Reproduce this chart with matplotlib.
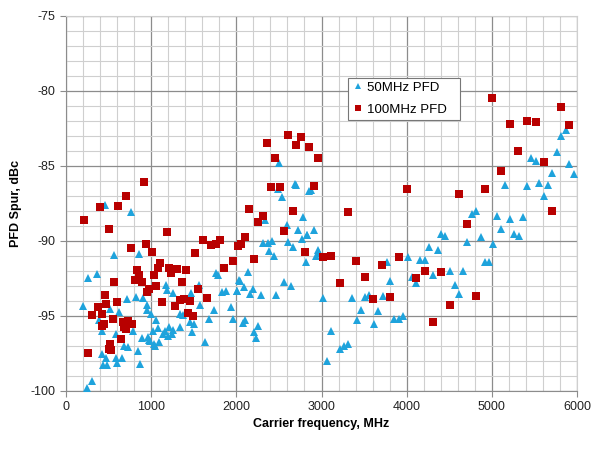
import numpy as np
import matplotlib
matplotlib.use("Agg")
import matplotlib.pyplot as plt
from matplotlib.ticker import MultipleLocator

plt.rcParams['font.family'] = ['Liberation Sans', 'DejaVu Sans']
plt.rcParams['axes.unicode_minus'] = False

# 50MHz PFD (triangles)
pfd50_x = [462, 763, 2505, 2684, 2704, 2485, 2857, 2880, 2536, 2779, 2332, 2591, 2727, 2908,
           2826, 2765, 2833, 2962,
           5870, 5811, 5761, 5460, 5518, 5909, 5706, 5968, 5157, 5416, 5557, 5662, 5609, 4766,
           4813, 5060, 5213, 5362, 5111, 5260, 5315, 4402, 4448, 4872,
           560, 861, 364, 258, 203, 712, 822, 904, 951, 955, 1002, 1053, 513, 618, 387, 426,
           583, 787, 684, 728, 841, 423, 470, 591, 657, 430, 485, 599, 869, 309, 243,
           892, 978, 986, 1033, 1088, 1049, 1135, 1158, 1201, 1240, 1209, 1260, 1335, 1084,
           1025, 966,
           1170, 1186, 1256, 1467, 1557, 1577, 1733, 1452, 1507, 1479, 1628, 1682, 1338, 1370,
           1757, 1784, 1827, 1878, 1933, 1960, 2003, 2027,
           2309, 2368, 2415, 2387, 2438, 2610, 2665, 2814, 2970, 2939, 4011, 3772, 2133, 3808,
           2043, 2011, 2093, 2192, 2160, 2286, 2462, 2563, 2642, 3013, 3358, 3510, 3561, 3718,
           3460, 3413, 3667, 3612, 3851, 3909, 3960, 2082, 2105, 2258, 2207, 2234, 3115, 3307,
           3260, 3213, 3064,
           4261, 4364, 4160, 4211, 4711, 5009, 4916, 4963, 4508, 4661, 4312, 4058, 4113, 4563,
           4610]
pfd50_y = [-87.6, -88.1, -84.8, -86.2, -86.3, -86.56, -86.67, -86.6, -87.1, -88.4, -88.6, -88.96,
           -89.3, -89.27, -89.6, -89.85, -89.6, -90.6,
           -82.58, -82.98, -84.09, -84.5, -84.67, -84.9, -85.47, -85.56, -86.24, -86.36, -86.16,
           -86.27, -87.0, -88.2, -88.0, -88.31, -88.56, -88.38, -89.18, -89.56, -89.7, -89.56,
           -89.7, -89.73,
           -90.93, -90.84, -92.18, -92.44, -94.33, -93.89, -93.71, -93.8, -94.27, -94.58, -94.89,
           -95.27, -94.56, -94.73, -95.24, -96.0, -96.22, -96.0, -96.98, -97.1, -97.36, -97.56,
           -97.77, -97.78, -97.78, -98.27, -98.27, -98.16, -98.18, -99.31, -99.82,
           -96.44, -96.6, -96.7, -96.87, -96.71, -97.0, -96.2, -96.02, -96.33, -96.2, -95.73,
           -95.91, -95.71, -95.78, -96.0, -96.4,
           -92.96, -93.3, -93.5, -93.49, -92.91, -94.29, -94.62, -95.42, -95.56, -96.09, -96.76,
           -95.2, -94.84, -94.96, -92.11, -92.3, -93.38, -93.36, -94.38, -95.2, -93.31, -92.62,
           -90.16, -90.16, -90.0, -90.64, -90.98, -90.09, -90.4, -91.38, -90.8, -90.98, -91.09,
           -91.38, -92.07, -92.69, -92.67, -93.33, -93.09, -93.18, -93.56, -93.62, -93.62,
           -92.76, -93.02, -93.78, -93.78, -93.71, -93.6, -93.69, -94.6, -95.29, -94.67, -95.56,
           -95.2, -95.2, -94.98, -95.47, -95.24, -95.64, -96.09, -96.44, -96.02, -96.87, -97.02,
           -97.22, -97.98,
           -90.42, -90.6, -91.27, -91.27, -90.09, -90.2, -91.38, -91.38, -91.98, -91.98, -92.27,
           -92.38, -92.82, -92.93, -93.53]

# 100MHz PFD (squares)
pfd100_x = [211, 403, 505, 607, 704, 912, 1182, 1605, 1804,
            2360, 2457, 2610, 2704, 2755, 2857, 2955, 2407, 2509, 2908, 4007,
            2152, 2309, 2254, 2661, 3311, 2563, 2105,
            5005, 5807, 5208, 5412, 5518, 5909, 5310, 5609, 5107, 4610, 4916, 5706, 4708,
            939, 759, 1006, 1515, 1706, 1760, 2015, 2052, 1960, 1855,
            1107, 1080, 1205, 1307, 1409, 1236, 834, 861, 806, 888, 560, 1033, 1358, 1053, 978,
            951, 1553, 1659, 1131, 458, 470, 595, 376, 1382, 1459, 1283, 1335, 426, 309, 548,
            1432, 1487, 446, 419, 665, 728, 684, 771, 700, 649, 520, 501, 528, 258,
            2806, 2207, 3013, 3115, 3408, 3710, 3905, 3507, 3217, 3608, 3808,
            4215, 4406, 4109, 4813, 4505, 4312]
pfd100_y = [-88.6, -87.75, -89.2, -87.7, -87.0, -86.05, -89.4, -89.95, -89.95,
            -83.47, -84.47, -82.93, -83.6, -83.1, -83.73, -84.47, -86.42, -86.38, -86.33, -86.56,
            -87.84, -88.31, -88.71, -88.0, -88.04, -89.33, -89.73,
            -80.47, -81.1, -82.18, -82.0, -82.05, -82.25, -83.98, -84.76, -85.33, -86.87, -86.56,
            -88.0, -88.89,
            -90.22, -90.47, -90.71, -90.8, -90.27, -90.2, -90.33, -90.2, -91.33, -91.8,
            -91.49, -91.82, -91.8, -91.87, -91.96, -92.16, -91.91, -92.24, -92.62, -92.71, -92.73,
            -92.29, -92.73, -93.0, -93.2, -93.42, -93.2, -93.8, -94.07, -93.62, -94.18, -94.07,
            -94.4, -93.87, -94.02, -94.36, -93.93, -94.84, -94.93, -95.22, -94.78, -95.0, -95.56,
            -95.69, -95.42, -95.33, -95.71, -95.51, -95.9, -96.51, -96.87, -97.22, -97.3, -97.44,
            -90.71, -91.18, -91.09, -91.02, -91.31, -91.6, -91.09, -92.4, -92.82, -93.84, -93.76,
            -92.0, -92.09, -92.49, -93.67, -94.27, -95.4]

fig = plt.figure(figsize=(5.92, 4.58), dpi=100)
ax = fig.add_axes([0.1115, 0.1463, 0.8632, 0.8188])

ax.plot(pfd50_x, pfd50_y, linestyle='none', marker='^', color='#1ea3dc', markersize=5.4,
        markeredgewidth=0, label='50MHz PFD', zorder=3)
ax.plot(pfd100_x, pfd100_y, linestyle='none', marker='s', color='#b80000', markersize=5.5,
        markeredgewidth=0, label='100MHz PFD', zorder=3)

ax.set_xlim(0, 6000)
ax.set_ylim(-100, -75)
ax.xaxis.set_major_locator(MultipleLocator(1000))
ax.xaxis.set_minor_locator(MultipleLocator(200))
ax.yaxis.set_major_locator(MultipleLocator(5))
ax.yaxis.set_minor_locator(MultipleLocator(1))
ax.grid(which='major', color='#8c8c8c', linewidth=0.9)
ax.grid(which='minor', color='#cfcfcf', linewidth=0.8)
ax.set_axisbelow(True)

for s in ['top', 'right']:
    ax.spines[s].set_color('#cfcfcf')
for s in ['left', 'bottom']:
    ax.spines[s].set_color('#8c8c8c')
ax.tick_params(which='major', direction='out', length=4, color='#8c8c8c', labelsize=9,
               labelcolor='#222222')
ax.tick_params(which='minor', length=0)

ax.set_xlabel('Carrier frequency, MHz', fontsize=9, fontweight='bold', labelpad=3)
ax.set_ylabel('PFD Spur, dBc', fontsize=9, fontweight='bold', labelpad=6)

leg = ax.legend(loc='upper left', bbox_to_anchor=(0.552, 0.735, 0.219, 0.1), mode='expand',
                borderaxespad=0, frameon=True, fancybox=False, framealpha=1,
                edgecolor='#777777', fontsize=9.5, handlelength=0.9, handletextpad=0.25,
                borderpad=0.3, labelspacing=0.72, markerscale=0.75)
leg.get_frame().set_linewidth(0.8)

fig.savefig('out.png', dpi=100)
